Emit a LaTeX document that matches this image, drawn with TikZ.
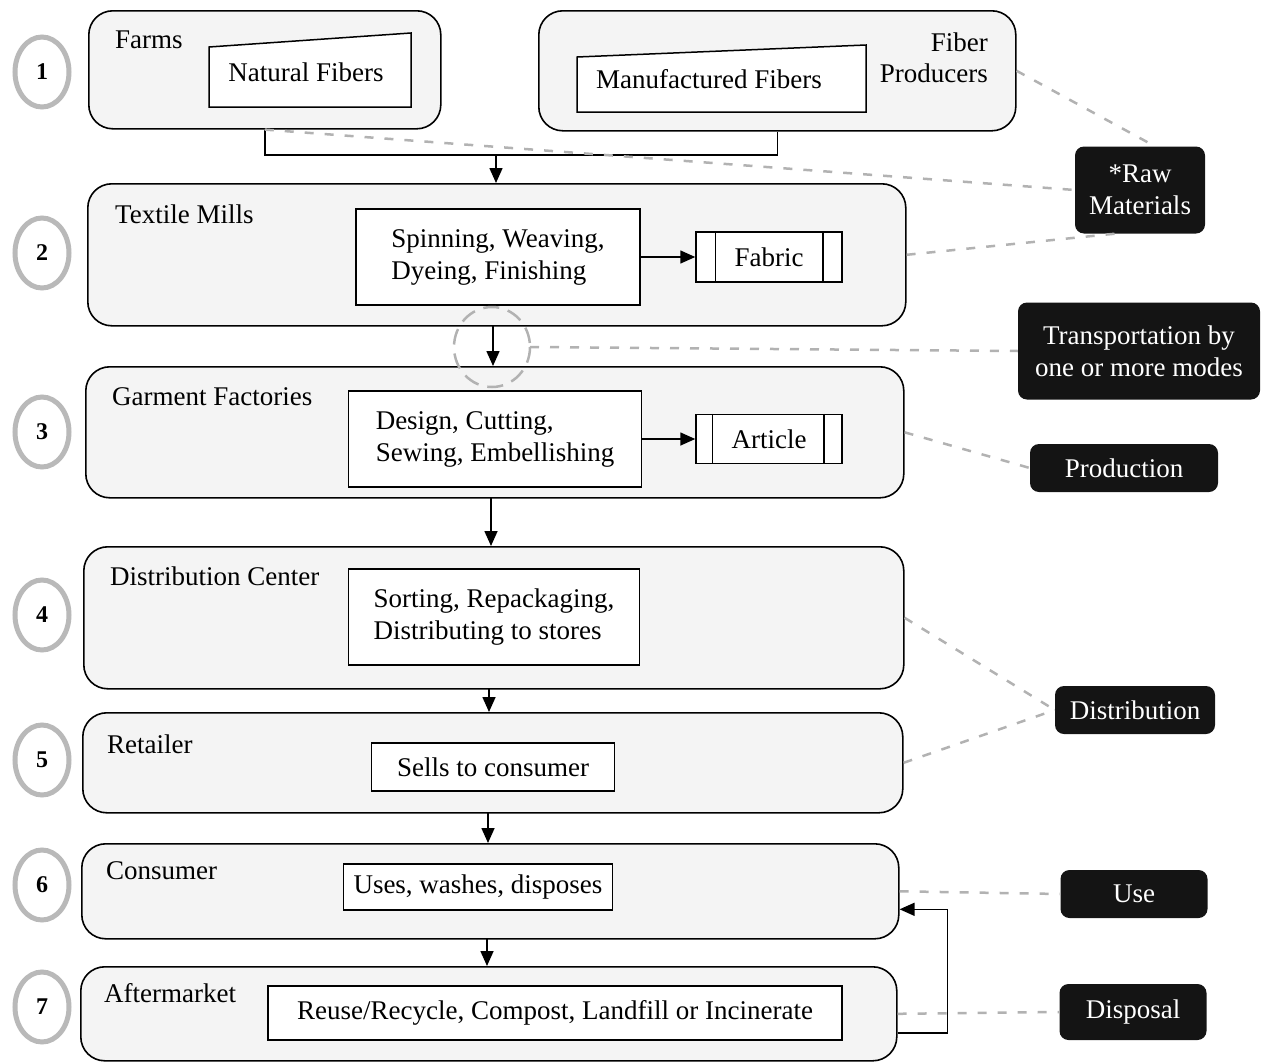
\documentclass[tikz,border=0pt]{standalone}
\usepackage{fontspec}
\setmainfont{Liberation Serif}
\usetikzlibrary{arrows.meta,shapes.geometric,calc}
\begin{document}
\begin{tikzpicture}[x=1pt,y=-1pt,
 font=\fontsize{27}{32}\selectfont,
 bigbox/.style={draw=black,line width=1.6pt,fill=gray!9,rounded corners=24pt,anchor=north west,inner sep=0pt},
 inbox/.style={draw=black,line width=1.5pt,fill=white,inner sep=0pt,align=left},
 darkbox/.style={fill=black!92,text=white,rounded corners=9pt,align=center,inner sep=0pt},
 num/.style={ellipse,draw=gray!55,line width=5pt,minimum width=54pt,minimum height=70pt,font=\fontsize{24}{28}\selectfont\bfseries,inner sep=0pt},
 arr/.style={line width=1.6pt,-{Triangle[length=15pt,width=13pt]}},
 link/.style={draw=gray!60,line width=2.5pt,dash pattern=on 9pt off 11pt},
 lbl/.style={anchor=base west,inner sep=0pt}
]
\useasboundingbox (0,0) rectangle (1262,1063);

% big stage boxes
\node[bigbox,minimum width=352pt,minimum height=118pt] (farms) at (88,10) {};
\node[bigbox,minimum width=477pt,minimum height=120pt] (fiber) at (538,10) {};
\node[bigbox,minimum width=818pt,minimum height=142pt] (textile) at (87,183) {};
\node[bigbox,minimum width=818pt,minimum height=131pt] (garment) at (85,366) {};
\node[bigbox,minimum width=820pt,minimum height=142pt] (dist) at (83,546) {};
\node[bigbox,minimum width=820pt,minimum height=100pt] (retail) at (82,712) {};
\node[bigbox,minimum width=817pt,minimum height=95pt] (consumer) at (81,843) {};
\node[bigbox,minimum width=816pt,minimum height=94pt] (after) at (80,966) {};

% stage labels
\node[lbl] (lfarms) at (115,48) {Farms};
\node[anchor=base east,inner sep=0pt] (lfiber1) at (988,51) {Fiber};
\node[anchor=base east,inner sep=0pt] (lfiber2) at (988,82) {Producers};
\node[lbl] (ltextile) at (115,223) {Textile Mills};
\node[lbl] (lgarment) at (112,405) {Garment Factories};
\node[lbl] (ldist) at (110,585) {Distribution Center};
\node[lbl] (lretail) at (107,753) {Retailer};
\node[lbl] (lconsumer) at (106,879) {Consumer};
\node[lbl] (lafter) at (104,1002) {Aftermarket};

% numbered circles
\node[num] (n1) at (42,72) {1};
\node[num] (n2) at (42,253) {2};
\node[num] (n3) at (42,432) {3};
\node[num] (n4) at (42,615) {4};
\node[num] (n5) at (42,760) {5};
\node[num] (n6) at (42,885) {6};
\node[num] (n7) at (42,1007) {7};

% trapezoids
\draw[line width=1.5pt,fill=white] (209,47) -- (411,33) -- (411,107) -- (209,107) -- cycle;
\node (natural) at (306,72) {Natural Fibers};
\draw[line width=1.5pt,fill=white] (577,57) -- (866,45) -- (866,112) -- (577,112) -- cycle;
\node (manuf) at (709,79) {Manufactured Fibers};

% inner process boxes
\node[inbox,minimum width=284pt,minimum height=96pt] (spin) at (498,257) {Spinning, Weaving,\\Dyeing, Finishing};
\node[inbox,minimum width=146pt,minimum height=50pt] (fabric) at (769,257) {Fabric};
\draw[line width=1.5pt] ([xshift=20pt]fabric.north west) -- ([xshift=20pt]fabric.south west)
  ([xshift=-20pt]fabric.north east) -- ([xshift=-20pt]fabric.south east);

\node[inbox,minimum width=293pt,minimum height=96pt] (design) at (495,439) {Design, Cutting,\\Sewing, Embellishing};
\node[inbox,minimum width=146pt,minimum height=49pt] (article) at (769,439) {Article};
\draw[line width=1.5pt] ([xshift=17pt]article.north west) -- ([xshift=17pt]article.south west)
  ([xshift=-19pt]article.north east) -- ([xshift=-19pt]article.south east);

\node[inbox,minimum width=291pt,minimum height=96pt] (sort) at (494,617) {Sorting, Repackaging,\\Distributing to stores};
\node[inbox,minimum width=243pt,minimum height=48pt] (sells) at (493,767) {Sells to consumer};
\node[inbox,minimum width=269pt,minimum height=46pt] (uses) at (478,887) {Uses, washes, disposes};
\node[inbox,minimum width=574pt,minimum height=54pt] (reuse) at (555,1013) {Reuse/Recycle, Compost, Landfill or Incinerate};

% flow connectors
\coordinate (join) at (496,155);
\draw[line width=1.6pt] (farms.south) |- (join) -| (fiber.south);
\draw[arr] (join) -- (join |- textile.north);
\draw[arr] (spin.east) -- (fabric.west);
\draw[arr] (design.east) -- (article.west);
\draw[arr] (493,325) -- (493,366);
\draw[arr] (491,497) -- (491,546);
\draw[arr] (489,688) -- (489,712);
\draw[arr] (488,812) -- (488,843);
\draw[arr] (487,938) -- (487,966);
\draw[arr] ([yshift=-19pt]after.east) -- ++(50,0) |- ([yshift=-18pt]consumer.east);

% category boxes
\node[darkbox,minimum width=130pt,minimum height=87pt] (raw) at (1140,190) {*Raw\\Materials};
\node[darkbox,minimum width=242pt,minimum height=97pt] (trans) at (1139,351) {Transportation by\\one or more modes};
\node[darkbox,minimum width=188pt,minimum height=48pt] (prod) at (1124,468) {Production};
\node[darkbox,minimum width=160pt,minimum height=48pt] (distr) at (1135,710) {Distribution};
\node[darkbox,minimum width=147pt,minimum height=48pt] (use) at (1134,894) {Use};
\node[darkbox,minimum width=147pt,minimum height=56pt] (disp) at (1133,1012) {Disposal};

% dashed links
\coordinate (tc) at (492,347);
\draw[link,dash pattern=on 16pt off 9pt] (tc) ellipse [x radius=38, y radius=40];
\draw[link] (fiber.east) -- ([xshift=15pt]raw.north);
\draw[link] (farms.south) -- (raw.west);
\draw[link] (textile.east) -- ([xshift=-25pt]raw.south);
\draw[link] ($(tc)+(38,0)$) -- (trans.west);
\draw[link] (garment.east) -- (prod.west);
\draw[link] (dist.east) -- (distr.west);
\draw[link] (retail.east) -- (distr.west);
\draw[link] (consumer.east) -- (use.west);
\draw[link] (after.east) -- (disp.west);
\end{tikzpicture}
\end{document}
